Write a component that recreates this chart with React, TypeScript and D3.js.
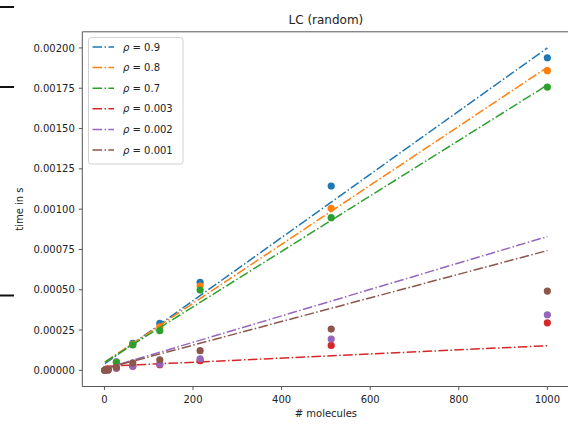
import React from "react";
import * as d3 from "d3";

// Problem sizes (number of molecules)
const sizes = [1, 8, 27, 64, 125, 216, 512, 1000];

// Measured run times in seconds, one array per density
const timesRho09 = [0.000001, 0.000006, 0.000053, 0.000168, 0.000292, 0.000546, 0.001143, 0.001939];
const timesRho08 = [0.000001, 0.000006, 0.00005, 0.000162, 0.00027, 0.000523, 0.001005, 0.001859];
const timesRho07 = [0.000001, 0.000006, 0.000048, 0.000158, 0.000246, 0.000498, 0.000947, 0.001757];
const timesRho0003 = [0.000001, 0.000003, 0.000014, 0.000026, 0.000035, 0.00006, 0.000155, 0.000295];
const timesRho0002 = [0.000001, 0.000003, 0.000015, 0.000027, 0.00004, 0.000072, 0.000194, 0.000345];
const timesRho0001 = [0.000001, 0.000004, 0.000019, 0.000047, 0.000066, 0.000122, 0.000256, 0.000492];

// Linear fit coefficients per density
const fitSlopes = [1.96e-6, 1.83e-6, 1.72e-6, 1.28e-7, 8.2e-7, 7.33e-7];
const fitIntercepts = [0.00004, 0.00005, 0.00005, 0.000025, 0.00001, 0.00001];

const rhoLabels = ["0.9", "0.8", "0.7", "0.003", "0.002", "0.001"];
const colors = ["#1f77b4", "#ff7f0e", "#2ca02c", "#d62728", "#9467bd", "#8c564b"];

const xTicks = [0, 200, 400, 600, 800, 1000];
const yTicks = [0, 0.00025, 0.0005, 0.00075, 0.001, 0.00125, 0.0015, 0.00175, 0.002];

const allTimes = [timesRho09, timesRho08, timesRho07, timesRho0003, timesRho0002, timesRho0001];

const W = 568;
const H = 425;
const left = 82.3;
const right = 569.5;
const top = 31.8;
const bottom = 386.5;

export default function App() {
  const x = d3.scaleLinear().domain([-50, 1050]).range([left, right]);
  const y = d3.scaleLinear().domain([-0.0001, 0.0021]).range([bottom, top]);
  const fitX = [sizes[0], sizes[sizes.length - 1]];
  const line = d3
    .line<[number, number]>()
    .x((d) => x(d[0]))
    .y((d) => y(d[1]));
  const font = "DejaVu Sans, sans-serif";
  const dash = "9.6,2.4,1.5,2.4";

  return (
    <svg
      width={W}
      height={H}
      style={{ position: "absolute", left: 0, top: 0, background: "#fff" }}
      fontFamily={font}
    >
      <rect x={0} y={0} width={W} height={H} fill="#fff" />
      {/* stray rules at the page edge */}
      {[7, 87, 295.5].map((yy, i) => (
        <line key={i} x1={0} x2={14} y1={yy} y2={yy} stroke="#111" strokeWidth={2} />
      ))}

      <defs>
        <clipPath id="plotArea">
          <rect x={left} y={top} width={right - left} height={bottom - top} />
        </clipPath>
      </defs>

      <g clipPath="url(#plotArea)">
        {allTimes.map((times, i) => (
          <g key={i}>
            <path
              d={line(fitX.map((v) => [v, fitIntercepts[i] + fitSlopes[i] * v]) as [number, number][]) || ""}
              fill="none"
              stroke={colors[i]}
              strokeWidth={1.5}
              strokeDasharray={dash}
            />
            {times.map((t, j) => (
              <circle key={j} cx={x(sizes[j])} cy={y(t)} r={3.6} fill={colors[i]} />
            ))}
          </g>
        ))}
      </g>

      {/* spines */}
      <g stroke="#444" strokeWidth={0.9} fill="none">
        <line x1={left} x2={left} y1={top} y2={bottom} />
        <line x1={left} x2={right} y1={bottom} y2={bottom} />
        <line x1={left} x2={right} y1={top} y2={top} />
        <line x1={right} x2={right} y1={top} y2={bottom} />
      </g>

      {/* x axis */}
      {xTicks.map((t) => (
        <g key={t}>
          <line x1={x(t)} x2={x(t)} y1={bottom} y2={bottom + 3.5} stroke="#444" strokeWidth={0.9} />
          <text x={x(t)} y={bottom + 16.5} fontSize={10} textAnchor="middle" fill="#222">
            {t}
          </text>
        </g>
      ))}
      <text x={(left + right) / 2} y={417} fontSize={10} textAnchor="middle" fill="#222">
        # molecules
      </text>

      {/* y axis */}
      {yTicks.map((t) => (
        <g key={t}>
          <line x1={left - 3.5} x2={left} y1={y(t)} y2={y(t)} stroke="#444" strokeWidth={0.9} />
          <text x={left - 7.5} y={y(t) + 3.6} fontSize={10} textAnchor="end" fill="#222">
            {t.toFixed(5)}
          </text>
        </g>
      ))}
      <text
        transform={`translate(22.5,${(top + bottom) / 2}) rotate(-90)`}
        fontSize={10}
        textAnchor="middle"
        fill="#222"
      >
        time in s
      </text>

      {/* title */}
      <text x={(left + right) / 2} y={23.5} fontSize={12} textAnchor="middle" fill="#222">
        LC (random)
      </text>

      {/* legend */}
      <rect x={88.5} y={37.5} width={94.5} height={126.5} rx={2.5} fill="#fff" fillOpacity={0.8} stroke="#ccc" strokeWidth={0.9} />
      {rhoLabels.map((lab, i) => {
        const ly = 47 + i * 20.6;
        return (
          <g key={lab}>
            <line x1={92.5} x2={114} y1={ly} y2={ly} stroke={colors[i]} strokeWidth={1.5} strokeDasharray={dash} />
            <text x={123} y={ly + 3.6} fontSize={10} fill="#222">
              <tspan fontStyle="italic">ρ</tspan>
              {` = ${lab}`}
            </text>
          </g>
        );
      })}
    </svg>
  );
}
